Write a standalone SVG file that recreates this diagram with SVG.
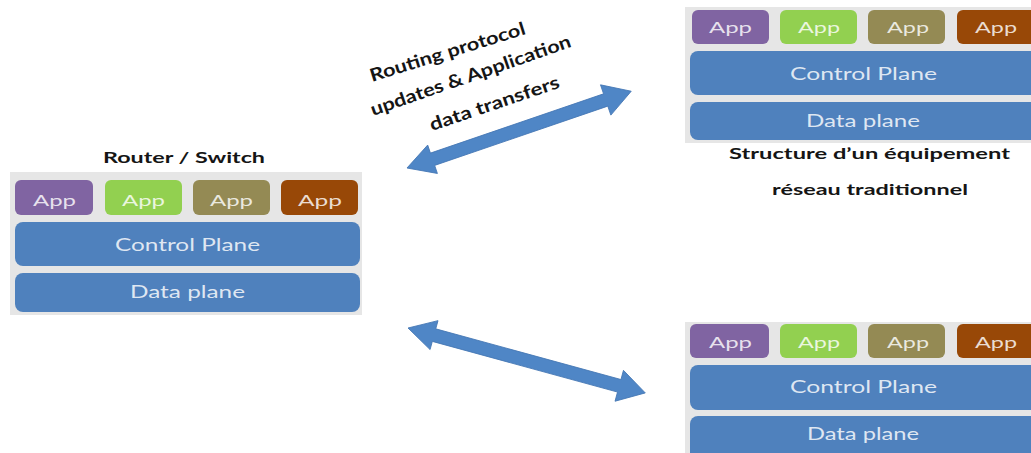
<svg xmlns="http://www.w3.org/2000/svg" width="1031" height="453" viewBox="0 0 1031 453">
  <defs>
    <style>
      .bg { fill: #e6e6e6; }
      .app1 { fill: #8064a2; }
      .app2 { fill: #92d050; }
      .app3 { fill: #948a54; }
      .app4 { fill: #984807; }
      .plane { fill: #4f81bd; }
      .lbl { font-family: Lato, "Liberation Sans", sans-serif; fill: #ffffff; fill-opacity: 0.82; }
      .app-t { font-size: 16px; }
      .plane-t { font-size: 17px; }
      .cap { font-family: Lato, "Liberation Sans", sans-serif; font-weight: 700; font-size: 16px; fill: #151515; }
      .cap-r { font-size: 18px; }
      .arrow { fill: #4f86c6; stroke: #4577b4; stroke-width: 0.8; }
    </style>
  </defs>
  <rect width="1031" height="453" fill="#ffffff"/>

  <!-- Router / Switch stack -->
  <g id="router-switch">
    <text class="cap" x="103" y="163" textLength="162" lengthAdjust="spacingAndGlyphs">Router / Switch</text>
    <rect class="bg" x="10" y="172" width="352" height="143"/>
    <rect class="app1" x="15" y="180" width="78" height="35" rx="6"/>
    <rect class="app2" x="105" y="180" width="77" height="35" rx="6"/>
    <rect class="app3" x="193" y="180" width="77" height="35" rx="6"/>
    <rect class="app4" x="281" y="180" width="77" height="35" rx="6"/>
    <text class="lbl app-t" x="33" y="206" textLength="43" lengthAdjust="spacingAndGlyphs">App</text>
    <text class="lbl app-t" x="122" y="206" textLength="43" lengthAdjust="spacingAndGlyphs">App</text>
    <text class="lbl app-t" x="210" y="206" textLength="43" lengthAdjust="spacingAndGlyphs">App</text>
    <text class="lbl app-t" x="298" y="206" textLength="44" lengthAdjust="spacingAndGlyphs">App</text>
    <rect class="plane" x="15" y="222" width="345" height="44" rx="8"/>
    <text class="lbl plane-t" x="115" y="251" textLength="145" lengthAdjust="spacingAndGlyphs">Control Plane</text>
    <rect class="plane" x="15" y="273" width="345" height="39" rx="8"/>
    <text class="lbl plane-t" x="130" y="298" textLength="115" lengthAdjust="spacingAndGlyphs">Data plane</text>
  </g>

  <!-- Traditional device stack, top right -->
  <g id="device-top">
    <rect class="bg" x="685" y="7" width="350" height="136"/>
    <rect class="app1" x="692" y="10" width="77" height="34" rx="6"/>
    <rect class="app2" x="780" y="10" width="77" height="34" rx="6"/>
    <rect class="app3" x="868" y="10" width="77" height="34" rx="6"/>
    <rect class="app4" x="957" y="10" width="80" height="34" rx="6"/>
    <text class="lbl app-t" x="709" y="33" textLength="43" lengthAdjust="spacingAndGlyphs">App</text>
    <text class="lbl app-t" x="798" y="33" textLength="42" lengthAdjust="spacingAndGlyphs">App</text>
    <text class="lbl app-t" x="887" y="33" textLength="42" lengthAdjust="spacingAndGlyphs">App</text>
    <text class="lbl app-t" x="975" y="33" textLength="42" lengthAdjust="spacingAndGlyphs">App</text>
    <rect class="plane" x="690" y="51" width="350" height="44" rx="8"/>
    <text class="lbl plane-t" x="790" y="80" textLength="147" lengthAdjust="spacingAndGlyphs">Control Plane</text>
    <rect class="plane" x="690" y="102" width="350" height="38" rx="8"/>
    <text class="lbl plane-t" x="806" y="127" textLength="114" lengthAdjust="spacingAndGlyphs">Data plane</text>
    <text class="cap" x="729" y="159" textLength="281" lengthAdjust="spacingAndGlyphs">Structure d’un équipement</text>
    <text class="cap" x="772" y="195" textLength="196" lengthAdjust="spacingAndGlyphs">réseau traditionnel</text>
  </g>

  <!-- Traditional device stack, bottom right -->
  <g id="device-bottom">
    <rect class="bg" x="685" y="322" width="350" height="135"/>
    <rect class="app1" x="690" y="324" width="79" height="34" rx="6"/>
    <rect class="app2" x="780" y="324" width="77" height="34" rx="6"/>
    <rect class="app3" x="868" y="324" width="77" height="34" rx="6"/>
    <rect class="app4" x="957" y="324" width="80" height="34" rx="6"/>
    <text class="lbl app-t" x="709" y="348" textLength="43" lengthAdjust="spacingAndGlyphs">App</text>
    <text class="lbl app-t" x="798" y="348" textLength="42" lengthAdjust="spacingAndGlyphs">App</text>
    <text class="lbl app-t" x="887" y="348" textLength="42" lengthAdjust="spacingAndGlyphs">App</text>
    <text class="lbl app-t" x="975" y="348" textLength="42" lengthAdjust="spacingAndGlyphs">App</text>
    <rect class="plane" x="690" y="365" width="350" height="45" rx="8"/>
    <text class="lbl plane-t" x="790" y="393" textLength="147" lengthAdjust="spacingAndGlyphs">Control Plane</text>
    <rect class="plane" x="690" y="416" width="350" height="50" rx="8"/>
    <text class="lbl plane-t" x="807" y="440" textLength="112" lengthAdjust="spacingAndGlyphs">Data plane</text>
  </g>

  <!-- Double-headed exchange arrows -->
  <g id="connectors">
    <polygon class="arrow" transform="translate(407,168) rotate(-18.9)"
      points="0,0 27,-15 27,-6.5 210,-6.5 210,-16 237,0 210,16 210,6.5 27,6.5 27,15"/>
    <polygon class="arrow" transform="translate(408,328) rotate(15.3)"
      points="0,0 27,-15 27,-6.5 219,-6.5 219,-16 246,0 219,16 219,6.5 27,6.5 27,15"/>
    <g id="link-label">
      <text class="cap cap-r" x="372" y="82" transform="rotate(-17.3 372 82)" textLength="162" lengthAdjust="spacingAndGlyphs">Routing protocol</text>
      <text class="cap cap-r" x="373" y="116" transform="rotate(-19.2 373 116)" textLength="211" lengthAdjust="spacingAndGlyphs">updates &amp; Application</text>
      <text class="cap cap-r" x="432" y="131" transform="rotate(-18.7 432 131)" textLength="136" lengthAdjust="spacingAndGlyphs">data transfers</text>
    </g>
  </g>
</svg>
